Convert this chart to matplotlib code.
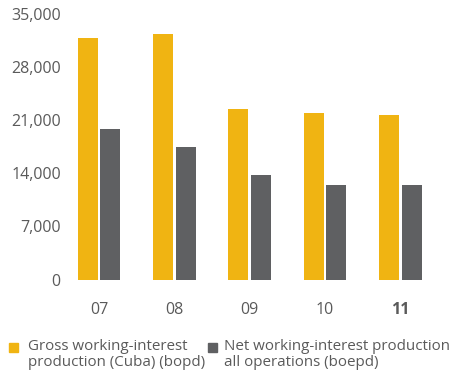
import matplotlib
matplotlib.use("Agg")
import matplotlib.pyplot as plt
import numpy as np
from matplotlib.patches import Rectangle

years = ["07", "08", "09", "10", "11"]
gross_cuba = [31800, 32400, 22500, 21900, 21700]
net_all_ops = [19800, 17500, 13800, 12500, 12500]
y_ticks = [0, 7000, 14000, 21000, 28000, 35000]
legend_labels = ["Gross working-interest\nproduction (Cuba) (bopd)",
                 "Net working-interest production\nall operations (boepd)"]

GOLD = "#F0B412"
GREY = "#5F6062"
TEXT = "#5A5A5A"

plt.rcParams["font.family"] = ["Open Sans", "DejaVu Sans"]

W, H = 454, 379
fig = plt.figure(figsize=(W / 100, H / 100), dpi=100)
ax = fig.add_axes([65 / W, (H - 279.5) / H, 375 / W, 265.5 / H])

x = np.arange(len(years))
bw = 0.265
off = 0.15
ax.bar(x - off, gross_cuba, width=bw, color=GOLD)
ax.bar(x + off, net_all_ops, width=bw, color=GREY)

ax.set_xlim(-0.451, 4.524)
ax.set_ylim(0, 35000)
ax.set_yticks(y_ticks)
ax.set_yticklabels([f"{v:,}" for v in y_ticks])
ax.set_xticks(x)
ax.set_xticklabels(years)
ax.tick_params(axis="y", length=0, pad=3, labelsize=11.5, labelcolor=TEXT)
ax.tick_params(axis="x", length=0, pad=16, labelsize=11.5, labelcolor=TEXT)
ax.get_xticklabels()[-1].set_fontweight("bold")
for s in ax.spines.values():
    s.set_visible(False)

# legend drawn by hand so the swatch lines up with the first text line
for (sx, tx), col, lab in zip([(9, 28), (208, 224)], [GOLD, GREY], legend_labels):
    fig.patches.append(Rectangle((sx / W, (H - 352) / H), 9 / W, 9 / H,
                                 transform=fig.transFigure, color=col))
    fig.text(tx / W, (H - 339) / H, lab, color=TEXT, fontsize=10.9,
             va="top", ha="left", linespacing=1.05)

fig.savefig("out.png", dpi=100)
